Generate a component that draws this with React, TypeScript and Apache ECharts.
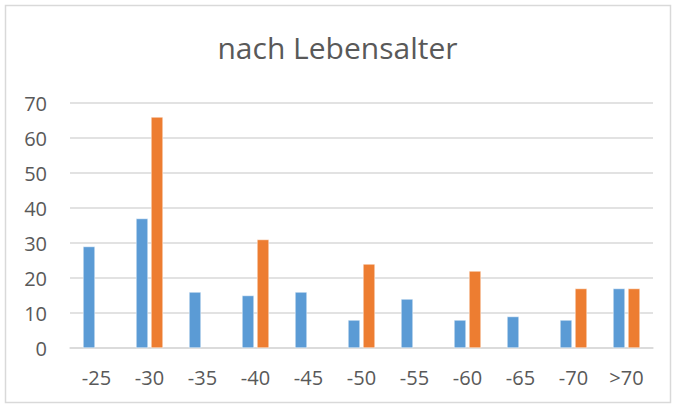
import React, { useEffect, useRef } from "react";
import * as echarts from "echarts";

const categories = ["-25", "-30", "-35", "-40", "-45", "-50", "-55", "-60", "-65", "-70", ">70"];
const blueValues = [29, 37, 16, 15, 16, 8, 14, 8, 9, 8, 17];
const orangeValues: (number | null)[] = [null, 66, null, 31, null, 24, null, 22, null, 17, 17];
const yTicks = { min: 0, max: 70, interval: 10 };

export default function App() {
  const ref = useRef<HTMLDivElement>(null);
  useEffect(() => {
    const chart = echarts.init(ref.current!, null, { renderer: "svg" });
    const font = "Open Sans, Liberation Sans, sans-serif";
    chart.setOption({
      animation: false,
      backgroundColor: "#ffffff",
      title: {
        text: "nach Lebensalter",
        left: "center",
        top: 27,
        textStyle: { fontFamily: font, fontSize: 30, fontWeight: "normal", color: "#595959" },
      },
      graphic: [
        {
          type: "rect",
          shape: { x: 5.5, y: 5.5, width: 665, height: 397 },
          style: { fill: "none", stroke: "#D9D9D9", lineWidth: 1.5 },
          silent: true,
        },
      ],
      grid: { left: 70, right: 22, top: 103, bottom: 59, containLabel: false },
      xAxis: {
        type: "category",
        data: categories,
        axisLine: { show: true, lineStyle: { color: "#D9D9D9", width: 1.5 } },
        axisTick: { show: false },
        axisLabel: { color: "#595959", fontFamily: font, fontSize: 20, margin: 19 },
      },
      yAxis: {
        type: "value",
        min: yTicks.min,
        max: yTicks.max,
        interval: yTicks.interval,
        axisLine: { show: false },
        axisTick: { show: false },
        splitLine: { lineStyle: { color: "#D9D9D9", width: 1.5 } },
        axisLabel: { color: "#595959", fontFamily: font, fontSize: 20, margin: 23 },
      },
      series: [
        {
          type: "bar",
          data: blueValues,
          barWidth: 12,
          barGap: "25%",
          itemStyle: { color: "#5B9BD5", borderColor: "#ffffff", borderWidth: 0.5 },
        },
        {
          type: "bar",
          data: orangeValues,
          barWidth: 12,
          itemStyle: { color: "#ED7D31", borderColor: "#ffffff", borderWidth: 0.5 },
        },
      ],
    });
    return () => chart.dispose();
  }, []);
  return (
    <div
      ref={ref}
      style={{ position: "absolute", left: 0, top: 0, width: 675, height: 407 }}
    />
  );
}
